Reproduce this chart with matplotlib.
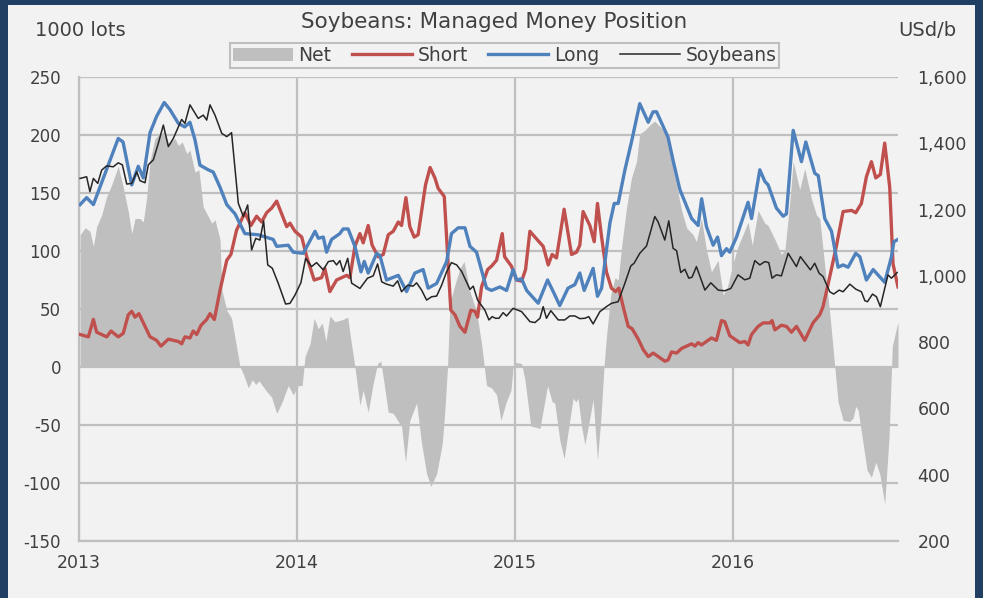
import matplotlib
matplotlib.use("Agg")
import matplotlib.pyplot as plt
from matplotlib.patches import Rectangle, Patch
from matplotlib.lines import Line2D
from matplotlib.ticker import FuncFormatter

# ---- data (decimal years) ----
long_t = [2013.005, 2013.035, 2013.066, 2013.180, 2013.202, 2013.242, 2013.272, 2013.295, 2013.326, 2013.356,
          2013.391, 2013.417, 2013.456, 2013.485, 2013.509, 2013.532, 2013.555, 2013.593, 2013.616, 2013.647,
          2013.678, 2013.716, 2013.761, 2013.822, 2013.891, 2013.907, 2013.960, 2013.983, 2014.029, 2014.083,
          2014.098, 2014.121, 2014.136, 2014.159, 2014.197, 2014.212, 2014.235, 2014.266, 2014.294, 2014.309,
          2014.327, 2014.366, 2014.381, 2014.411, 2014.465, 2014.503, 2014.541, 2014.579, 2014.602, 2014.641,
          2014.687, 2014.709, 2014.740, 2014.771, 2014.794, 2014.824, 2014.870, 2014.893, 2014.931, 2014.962,
          2014.992, 2015.008, 2015.031, 2015.054, 2015.107, 2015.150, 2015.176, 2015.206, 2015.244, 2015.275,
          2015.298, 2015.318, 2015.359, 2015.379, 2015.398, 2015.436, 2015.456, 2015.474, 2015.505, 2015.535,
          2015.573, 2015.612, 2015.634, 2015.650, 2015.703, 2015.726, 2015.757, 2015.811, 2015.841, 2015.857,
          2015.879, 2015.910, 2015.930, 2015.948, 2015.971, 2015.986, 2016.017, 2016.070, 2016.086, 2016.124,
          2016.147, 2016.162, 2016.200, 2016.231, 2016.246, 2016.277, 2016.315, 2016.335, 2016.376, 2016.392,
          2016.422, 2016.453, 2016.483, 2016.506, 2016.529, 2016.564, 2016.583, 2016.613, 2016.644, 2016.697,
          2016.728, 2016.739, 2016.758]
long_v = [140, 146, 140, 197, 194, 157, 173, 163, 202, 216,
          228, 222, 210, 207, 211, 196, 174, 170, 168, 155,
          140, 132, 115, 114, 110, 104, 105, 99, 98, 117,
          111, 112, 99, 110, 115, 119, 119, 104, 82, 91,
          81, 98, 96, 75, 79, 65, 81, 84, 68, 72,
          91, 115, 120, 120, 104, 99, 68, 66, 69, 66,
          84, 75, 76, 66, 55, 75, 65, 53, 68, 71,
          81, 66, 85, 61, 68, 124, 141, 141, 170, 194,
          227, 211, 220, 220, 198, 178, 153, 128, 122, 145,
          121, 105, 112, 96, 102, 99, 112, 142, 128, 170,
          160, 157, 137, 130, 132, 204, 177, 194, 167, 165,
          128, 117, 86, 88, 86, 98, 95, 75, 84, 73,
          95, 108, 110]

short_t = [2013.005, 2013.043, 2013.066, 2013.081, 2013.127, 2013.147, 2013.180, 2013.203, 2013.226, 2013.242,
           2013.257, 2013.275, 2013.303, 2013.326, 2013.356, 2013.376, 2013.410, 2013.456, 2013.471, 2013.486,
           2013.509, 2013.524, 2013.540, 2013.560, 2013.586, 2013.601, 2013.621, 2013.647, 2013.678, 2013.697,
           2013.723, 2013.761, 2013.789, 2013.815, 2013.838, 2013.861, 2013.884, 2013.907, 2013.953, 2013.968,
           2013.991, 2014.022, 2014.045, 2014.079, 2014.113, 2014.128, 2014.151, 2014.182, 2014.228, 2014.243,
           2014.266, 2014.289, 2014.304, 2014.327, 2014.345, 2014.373, 2014.396, 2014.419, 2014.442, 2014.465,
           2014.480, 2014.500, 2014.518, 2014.538, 2014.556, 2014.590, 2014.611, 2014.633, 2014.648, 2014.676,
           2014.706, 2014.725, 2014.748, 2014.771, 2014.798, 2014.817, 2014.829, 2014.847, 2014.875, 2014.893,
           2014.916, 2014.942, 2014.953, 2014.984, 2015.008, 2015.031, 2015.049, 2015.069, 2015.092, 2015.130,
           2015.153, 2015.171, 2015.191, 2015.226, 2015.260, 2015.283, 2015.298, 2015.313, 2015.344, 2015.364,
           2015.379, 2015.398, 2015.420, 2015.443, 2015.462, 2015.477, 2015.497, 2015.520, 2015.538, 2015.566,
           2015.589, 2015.612, 2015.635, 2015.658, 2015.688, 2015.703, 2015.719, 2015.742, 2015.765, 2015.788,
           2015.811, 2015.826, 2015.841, 2015.856, 2015.879, 2015.902, 2015.925, 2015.948, 2015.963, 2015.986,
           2016.009, 2016.032, 2016.055, 2016.070, 2016.086, 2016.116, 2016.139, 2016.170, 2016.180, 2016.193,
           2016.223, 2016.246, 2016.269, 2016.292, 2016.330, 2016.368, 2016.399, 2016.414, 2016.445, 2016.475,
           2016.506, 2016.545, 2016.564, 2016.590, 2016.613, 2016.636, 2016.656, 2016.677, 2016.697, 2016.720,
           2016.735, 2016.758]
short_v = [28, 26, 41, 30, 26, 31, 26, 29, 45, 48,
           43, 46, 35, 26, 23, 18, 24, 22, 20, 26,
           25, 31, 28, 36, 41, 46, 41, 66, 92, 97,
           118, 133, 122, 130, 125, 133, 137, 143, 121, 124,
           117, 112, 95, 75, 77, 85, 65, 75, 79, 77,
           104, 115, 107, 122, 105, 95, 97, 114, 117, 125,
           122, 146, 121, 112, 114, 157, 172, 163, 154, 147,
           49, 45, 35, 30, 49, 48, 43, 69, 84, 87,
           92, 115, 95, 87, 75, 74, 84, 117, 112, 104,
           88, 97, 94, 136, 97, 99, 105, 134, 122, 108,
           141, 112, 82, 68, 65, 68, 52, 35, 33, 24,
           15, 9, 12, 9, 5, 6, 13, 12, 16, 18,
           20, 18, 21, 19, 22, 25, 23, 40, 39, 27,
           24, 21, 22, 19, 28, 35, 38, 38, 40, 32,
           36, 35, 30, 35, 23, 38, 45, 52, 78, 104,
           134, 135, 133, 141, 164, 177, 163, 166, 193, 155,
           89, 69]

soy_t = [2013.005, 2013.035, 2013.050, 2013.066, 2013.086, 2013.104, 2013.127, 2013.157, 2013.180, 2013.199,
         2013.219, 2013.242, 2013.265, 2013.280, 2013.303, 2013.318, 2013.341, 2013.364, 2013.387, 2013.410,
         2013.433, 2013.471, 2013.486, 2013.509, 2013.547, 2013.570, 2013.586, 2013.601, 2013.624, 2013.655,
         2013.678, 2013.700, 2013.731, 2013.754, 2013.774, 2013.792, 2013.811, 2013.830, 2013.847, 2013.866,
         2013.887, 2013.914, 2013.948, 2013.968, 2013.991, 2014.018, 2014.040, 2014.067, 2014.090, 2014.121,
         2014.144, 2014.167, 2014.182, 2014.197, 2014.212, 2014.233, 2014.251, 2014.289, 2014.324, 2014.350,
         2014.370, 2014.389, 2014.411, 2014.442, 2014.462, 2014.480, 2014.508, 2014.533, 2014.549, 2014.572,
         2014.595, 2014.618, 2014.641, 2014.664, 2014.687, 2014.709, 2014.733, 2014.756, 2014.794, 2014.809,
         2014.829, 2014.862, 2014.881, 2014.896, 2014.911, 2014.927, 2014.946, 2014.962, 2014.992, 2015.031,
         2015.069, 2015.092, 2015.115, 2015.130, 2015.145, 2015.165, 2015.199, 2015.229, 2015.252, 2015.275,
         2015.298, 2015.321, 2015.339, 2015.359, 2015.390, 2015.420, 2015.443, 2015.474, 2015.505, 2015.532,
         2015.547, 2015.573, 2015.604, 2015.642, 2015.657, 2015.688, 2015.706, 2015.726, 2015.742, 2015.761,
         2015.780, 2015.798, 2015.813, 2015.833, 2015.872, 2015.899, 2015.933, 2015.963, 2015.991, 2016.024,
         2016.055, 2016.078, 2016.101, 2016.124, 2016.147, 2016.165, 2016.180, 2016.200, 2016.223, 2016.254,
         2016.292, 2016.310, 2016.356, 2016.376, 2016.396, 2016.414, 2016.445, 2016.463, 2016.488, 2016.506,
         2016.537, 2016.564, 2016.590, 2016.606, 2016.618, 2016.641, 2016.659, 2016.677, 2016.712, 2016.728,
         2016.754]
soy_v = [1294, 1299, 1254, 1294, 1279, 1319, 1332, 1329, 1341, 1335,
         1277, 1279, 1314, 1287, 1281, 1335, 1350, 1400, 1455, 1390,
         1415, 1472, 1460, 1516, 1475, 1485, 1470, 1516, 1485, 1430,
         1420, 1432, 1219, 1179, 1214, 1078, 1113, 1108, 1166, 1033,
         1023, 978, 915, 917, 942, 979, 1053, 1028, 1040, 1018,
         1043, 1046, 1033, 1046, 1013, 1053, 978, 962, 993, 1000,
         1036, 982, 975, 969, 985, 952, 972, 969, 979, 957,
         927, 937, 939, 972, 1013, 1040, 1033, 1013, 959, 969,
         927, 897, 867, 877, 872, 872, 889, 879, 902, 892,
         862, 859, 872, 907, 872, 895, 867, 867, 879, 879,
         871, 872, 877, 855, 892, 907, 917, 922, 978, 1030,
         1038, 1068, 1090, 1179, 1163, 1108, 1166, 1083, 1076, 1010,
         1020, 993, 996, 1028, 957, 979, 957, 955, 962, 1003,
         988, 993, 1046, 1033, 1043, 1040, 993, 1003, 1000, 1068,
         1028, 1058, 1018, 1038, 1008, 998, 952, 945, 957, 952,
         975, 960, 952, 925, 922, 945, 937, 907, 1003, 993,
         1010]

net_t = [2013.005, 2013.028, 2013.050, 2013.066, 2013.081, 2013.104, 2013.127, 2013.150, 2013.180, 2013.203,
         2013.226, 2013.242, 2013.257, 2013.280, 2013.295, 2013.311, 2013.326, 2013.349, 2013.372, 2013.394,
         2013.410, 2013.440, 2013.456, 2013.474, 2013.494, 2013.509, 2013.532, 2013.550, 2013.570, 2013.590,
         2013.609, 2013.624, 2013.647, 2013.656, 2013.678, 2013.700, 2013.739, 2013.754, 2013.777, 2013.795,
         2013.811, 2013.826, 2013.861, 2013.884, 2013.907, 2013.930, 2013.960, 2013.983, 2014.006, 2014.024,
         2014.037, 2014.060, 2014.079, 2014.098, 2014.116, 2014.133, 2014.151, 2014.174, 2014.212, 2014.233,
         2014.243, 2014.266, 2014.289, 2014.304, 2014.327, 2014.350, 2014.370, 2014.385, 2014.419, 2014.442,
         2014.465, 2014.480, 2014.498, 2014.518, 2014.549, 2014.572, 2014.595, 2014.615, 2014.641, 2014.667,
         2014.679, 2014.691, 2014.702, 2014.725, 2014.748, 2014.767, 2014.794, 2014.824, 2014.847, 2014.870,
         2014.893, 2014.916, 2014.936, 2014.959, 2014.982, 2014.992, 2015.000, 2015.031, 2015.046, 2015.073,
         2015.099, 2015.115, 2015.150, 2015.171, 2015.183, 2015.206, 2015.226, 2015.248, 2015.267, 2015.280,
         2015.290, 2015.306, 2015.321, 2015.344, 2015.359, 2015.379, 2015.394, 2015.409, 2015.420, 2015.440,
         2015.459, 2015.474, 2015.490, 2015.512, 2015.535, 2015.558, 2015.573, 2015.596, 2015.627, 2015.642,
         2015.673, 2015.703, 2015.734, 2015.765, 2015.788, 2015.818, 2015.833, 2015.856, 2015.879, 2015.902,
         2015.917, 2015.932, 2015.956, 2015.975, 2016.001, 2016.024, 2016.055, 2016.070, 2016.089, 2016.116,
         2016.147, 2016.162, 2016.193, 2016.223, 2016.239, 2016.261, 2016.277, 2016.307, 2016.330, 2016.361,
         2016.384, 2016.399, 2016.422, 2016.445, 2016.468, 2016.483, 2016.506, 2016.537, 2016.552, 2016.564,
         2016.575, 2016.598, 2016.616, 2016.636, 2016.656, 2016.674, 2016.697, 2016.717, 2016.732, 2016.758]
net_v = [114, 120, 117, 104, 121, 131, 147, 157, 173, 155,
         134, 115, 128, 128, 125, 147, 178, 197, 201, 203,
         193, 197, 191, 194, 184, 187, 168, 170, 138, 131,
         124, 127, 110, 66, 49, 42, 0, -6, -18, -11,
         -15, -12, -21, -26, -40, -31, -16, -24, -16, -16,
         9, 20, 42, 33, 38, 22, 44, 39, 41, 43,
         29, 0, -33, -20, -39, -14, 3, 5, -39, -40,
         -47, -51, -82, -46, -31, -66, -92, -103, -92, -66,
         -37, 0, 55, 71, 85, 91, 65, 48, 20, -16,
         -18, -24, -46, -31, -20, 0, 4, 3, -11, -51,
         -52, -53, -16, -30, -31, -63, -79, -51, -27, -30,
         -27, -51, -67, -44, -28, -80, -46, 0, 26, 62,
         77, 75, 104, 137, 163, 177, 201, 204, 210, 212,
         206, 196, 164, 135, 120, 114, 108, 128, 101, 82,
         87, 92, 62, 69, 89, 104, 118, 125, 105, 135,
         124, 122, 110, 97, 101, 141, 177, 153, 171, 145,
         131, 128, 87, 46, 0, -30, -46, -47, -44, -34,
         -37, -66, -89, -95, -82, -92, -118, -60, 18, 39]

year_ticks = [2013, 2014, 2015, 2016]
year_labels = ['2013', '2014', '2015', '2016']
left_ticks = list(range(-150, 251, 50))
right_ticks = list(range(200, 1601, 200))

# ---- styling ----
plt.rcParams['font.family'] = ['DejaVu Sans']
plt.rcParams['axes.unicode_minus'] = False
txt = '#404040'
grid_c = '#bfbfbf'

W, H = 983, 598
fig = plt.figure(figsize=(W / 100, H / 100), dpi=100)
fig.patch.set_facecolor('#203f63')
fig.add_artist(Rectangle((8 / W, 0), 967 / W, 593 / H, transform=fig.transFigure,
                         facecolor='#f2f2f2', edgecolor='none', zorder=-10))

ax = fig.add_axes([79 / W, 57 / H, 819 / W, 464 / H])
ax.set_facecolor('#f2f2f2')
ax.fill_between(net_t, net_v, 0, color='#bfbfbf', lw=0, zorder=2)
ax.plot(short_t, short_v, color='#c0504d', lw=2.4, zorder=3, solid_joinstyle='round')
ax.plot(long_t, long_v, color='#4f81bd', lw=2.4, zorder=4, solid_joinstyle='round')

ax.set_xlim(2013, 2016.758)
ax.set_ylim(-150, 250)
ax.set_xticks(year_ticks)
ax.set_xticklabels(year_labels)
ax.set_yticks(left_ticks)
ax.grid(True, color=grid_c, lw=1.6, zorder=1)
ax.set_axisbelow(True)
for s in ['top', 'right']:
    ax.spines[s].set_visible(False)
for s in ['left', 'bottom']:
    ax.spines[s].set_color(grid_c)
    ax.spines[s].set_linewidth(1.6)
ax.tick_params(axis='y', length=0, labelsize=12, labelcolor=txt, pad=13)
ax.tick_params(axis='x', length=0, labelsize=12.5, labelcolor=txt, pad=9)

ax2 = ax.twinx()
ax2.plot(soy_t, soy_v, color='#262626', lw=1.1, zorder=5)
ax2.set_ylim(200, 1600)
ax2.set_yticks(right_ticks)
ax2.yaxis.set_major_formatter(FuncFormatter(lambda v, p: f'{v:,.0f}'))
for s in ax2.spines.values():
    s.set_visible(False)
ax2.tick_params(axis='y', length=0, labelsize=12.5, labelcolor=txt, pad=14)

fig.text(494 / W, 1 - 22 / H, 'Soybeans: Managed Money Position', ha='center', va='center',
         fontsize=15.5, color=txt)
fig.text(35 / W, 1 - 30 / H, '1000 lots', ha='left', va='center', fontsize=14, color=txt)
fig.text(956 / W, 1 - 30 / H, 'USd/b', ha='right', va='center', fontsize=14, color=txt)

handles = [Patch(facecolor='#bfbfbf', edgecolor='none', label='Net'),
           Line2D([], [], color='#c0504d', lw=2.4, label='Short'),
           Line2D([], [], color='#4f81bd', lw=2.4, label='Long'),
           Line2D([], [], color='#262626', lw=1.1, label='Soybeans')]
leg = fig.legend(handles=handles, ncol=4, loc='center', bbox_to_anchor=(504.5 / W, 1 - 55.5 / H),
                 frameon=True, fancybox=False, edgecolor=grid_c, facecolor='#f2f2f2', framealpha=1,
                 fontsize=13.5, handlelength=3.2, handletextpad=0.3, columnspacing=1.1,
                 borderpad=0.15, borderaxespad=0, labelcolor=txt)
leg.get_frame().set_linewidth(1.5)

fig.savefig('out.png', dpi=100, facecolor=fig.get_facecolor())
